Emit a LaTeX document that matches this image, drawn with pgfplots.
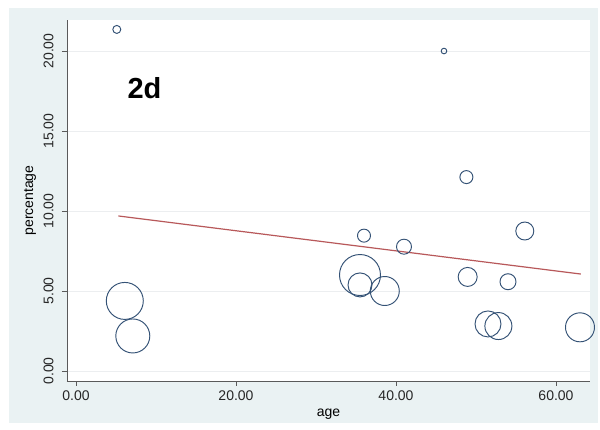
\documentclass[border=0pt]{standalone}
\usepackage{pgfplots}
\pgfplotsset{compat=1.18}
\usepackage{fontspec}
\setmainfont{Liberation Sans}

\definecolor{panel}{RGB}{234,242,243}
\definecolor{bubble}{RGB}{52,82,118}
\definecolor{fitline}{RGB}{184,88,90}
\definecolor{gridc}{RGB}{236,238,240}
\definecolor{axisc}{RGB}{90,90,90}

\pgfplotstableread{
x     y      r
5.1   21.35  4.0
46.0  20.00  2.8
48.8  12.12  6.5
6.1   4.38   18.5
7.1   2.19   17.0
36.0  8.46   6.5
41.0  7.77   7.5
35.5  6.00   20.5
35.5  5.38   12.0
38.6  5.00   14.5
48.96 5.88   9.5
56.1  8.75   9.0
54.0  5.58   8.0
51.5  2.94   13.0
52.8  2.81   13.5
63.0  2.73   14.5
}\bubbles

\begin{document}
\begin{tikzpicture}
% page and graph region
\fill[white] (-67pt,-49pt) rectangle (533pt,381pt);
\fill[panel] (-58pt,-42pt) rectangle (531pt,373pt);
\begin{axis}[
  at={(0pt,0pt)}, anchor=south west,
  scale only axis, width=523pt, height=361pt,
  xmin=-1.125, xmax=64.25, ymin=-0.625, ymax=21.94,
  clip=false,
  axis background/.style={fill=white},
  axis x line*=bottom, axis y line*=left,
  axis line style={axisc, line width=0.8pt},
  every tick/.style={axisc, line width=0.8pt},
  tick align=outside, major tick length=5pt,
  xtick={0,20,40,60}, ytick={0,5,10,15,20},
  ymajorgrids, grid style={gridc, line width=0.8pt},
  /pgf/number format/assume math mode=true,
  /pgf/number format/.cd, fixed, fixed zerofill, precision=2, /pgfplots/.cd,
  tick label style={font=\fontsize{14}{16}\selectfont, text=black!85},
  yticklabel style={rotate=90, anchor=south, yshift=5pt},
  xticklabel style={yshift=-1pt},
  label style={font=\fontsize{14}{16}\selectfont},
  xlabel={age}, ylabel={percentage},
  xlabel style={at={(axis description cs:0.5,0)}, anchor=center, yshift=-33pt},
  ylabel style={at={(axis description cs:0,0.5)}, anchor=center, rotate=0, yshift=37pt},
]
\addplot[scatter, only marks, mark=o, line width=0.95pt,
  scatter/use mapped color={draw=bubble},
  visualization depends on={\thisrow{r} \as \rad},
  scatter/@pre marker code/.append style={/tikz/mark size=\rad pt}]
  table[x=x, y=y] {\bubbles};
\addplot[fitline, line width=1.2pt, no marks] coordinates {(5.3,9.69) (63.1,6.06)};
\node[font=\bfseries\fontsize{29}{32}\selectfont] at (axis cs:8.56,17.66) {2d};
\end{axis}
\end{tikzpicture}
\end{document}
